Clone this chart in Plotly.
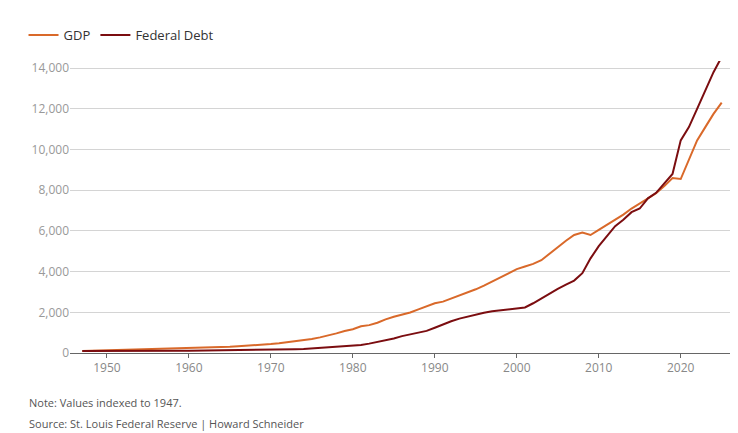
import plotly.graph_objects as go

years = list(range(1947, 2026))
gdp = [100,110,111,123,142,150,159,160,174,184,194,198,214,223,231,248,261,281,305,334,353,386,418,440,477,524,584,633,690,768,853,964,1077,1171,1314,1370,1489,1655,1778,1877,1990,2146,2312,2444,2524,2672,2811,2986,3131,3309,3515,3714,3947,4120,4250,4380,4560,4860,5200,5520,5800,5920,5800,6050,6300,6560,6800,7100,7350,7600,7850,8200,8600,8550,9500,10450,11100,11750,12300]
debt = [100,98,99,99,100,102,106,108,108,106,106,110,112,112,115,118,120,123,124,127,133,137,137,148,160,173,182,192,224,253,281,306,325,360,397,460,535,616,716,830,906,992,1088,1240,1406,1561,1690,1791,1880,1977,2047,2103,2150,2180,2240,2445,2690,2930,3150,3360,3560,3920,4650,5250,5750,6230,6550,6920,7100,7600,7870,8350,8800,10450,11100,12000,12900,13800,14550]

fig = go.Figure()
fig.add_trace(go.Scatter(x=years, y=gdp, name="GDP", mode="lines", line=dict(color="#d9692a", width=2)))
fig.add_trace(go.Scatter(x=years, y=debt, name="Federal Debt", mode="lines", line=dict(color="#7b0d10", width=2)))

fig.update_layout(
    width=738, height=433, plot_bgcolor="white", paper_bgcolor="white",
    font=dict(family="Open Sans, sans-serif", color="#444", size=12),
    margin=dict(l=62, r=12, t=48, b=88),
    legend=dict(orientation="h", x=-0.07, y=1.14, xanchor="left", yanchor="top", font=dict(size=13, color="#333")),
    xaxis=dict(range=[1945.5, 2026.5], tickvals=[1950,1960,1970,1980,1990,2000,2010,2020], showgrid=False,
               showline=True, linecolor="#666", ticks="outside", ticklen=4, tickcolor="#666",
               tickfont=dict(color="#888", size=12)),
    yaxis=dict(range=[0, 14350], tickvals=[0,2000,4000,6000,8000,10000,12000,14000], tickformat=",",
               gridcolor="#d4d4d4", zeroline=False, tickfont=dict(color="#999", size=12)),
    annotations=[
        dict(text="Note: Values indexed to 1947.", x=-0.065, y=-0.168, xref="paper", yref="paper", xanchor="left",
             yanchor="middle", showarrow=False, font=dict(size=11, color="#555")),
        dict(text="Source: St. Louis Federal Reserve | Howard Schneider", x=-0.065, y=-0.242, xref="paper",
             yref="paper", xanchor="left", yanchor="middle", showarrow=False, font=dict(size=11, color="#555")),
    ],
)
fig.write_html("out.html")
